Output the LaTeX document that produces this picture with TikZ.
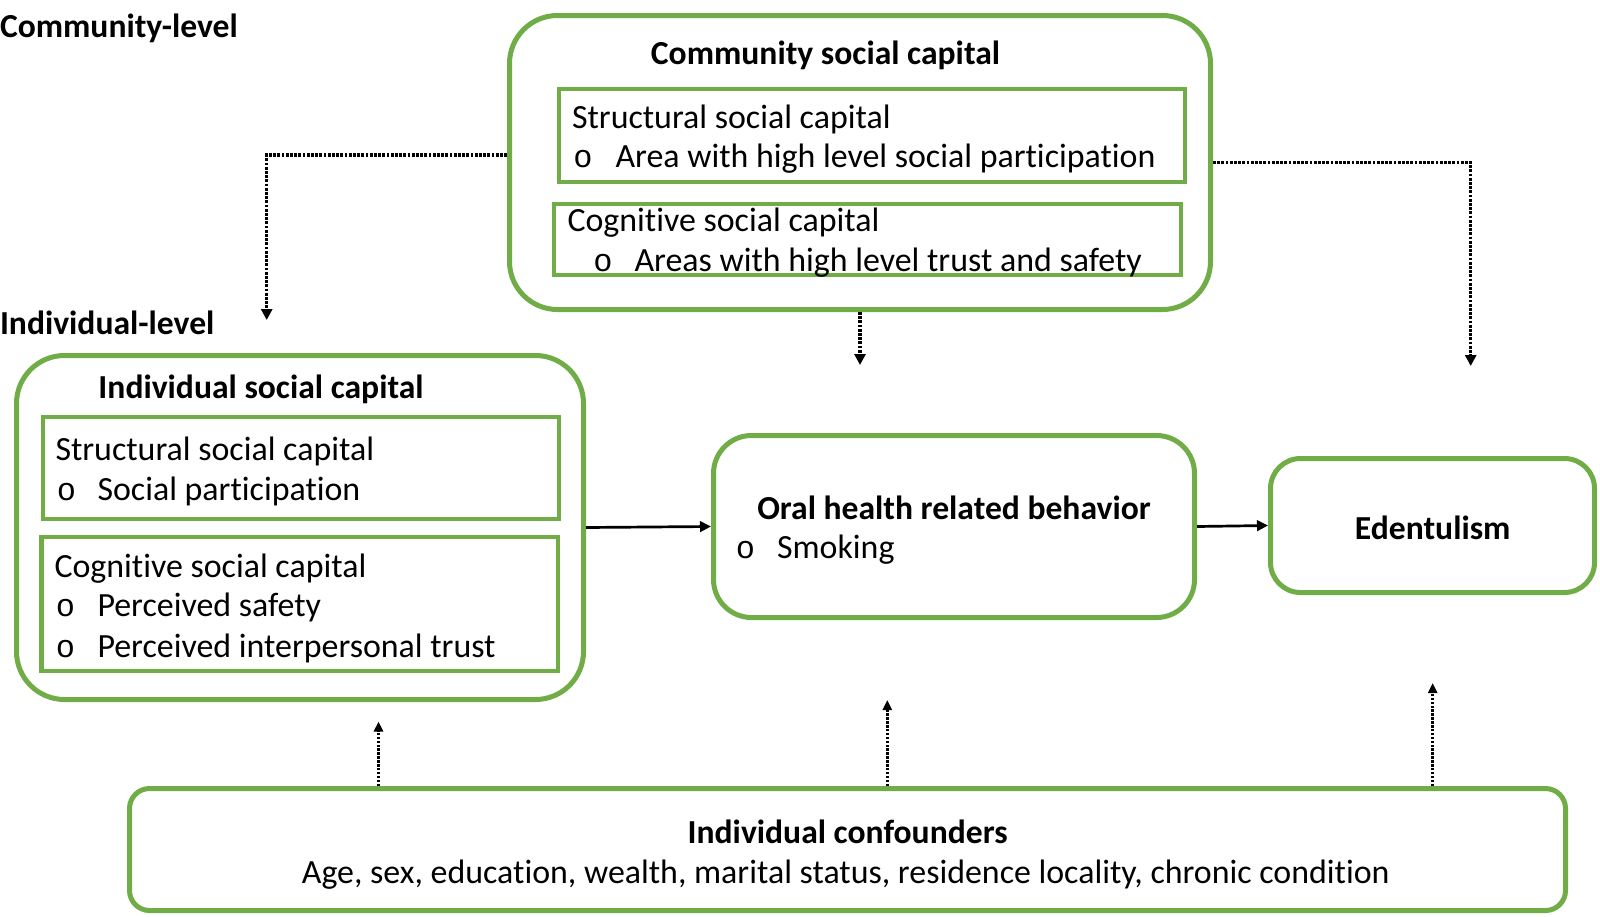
\documentclass[tikz,border=0pt]{standalone}
\usepackage{fontspec}
\setmainfont{Carlito}[Ligatures={NoCommon,NoContextual}]
\newfontfamily\bulletfont{Liberation Mono}
\usetikzlibrary{arrows.meta}
\definecolor{boxgreen}{HTML}{70AD47}
\tikzset{
  outerbox/.style={draw=boxgreen, line width=5pt, rounded corners=#1, inner sep=0pt, fill=none},
  innerbox/.style={draw=boxgreen, line width=4.5pt, inner sep=0pt},
  txt/.style={inner sep=0pt, outer sep=0pt, font=\fontsize{33.9}{40}\selectfont},
  btxt/.style={txt, font=\fontsize{33.6}{40}\selectfont\bfseries},
  bul/.style={inner sep=0pt, outer sep=0pt, anchor=base, font=\fontsize{32}{40}\selectfont\bulletfont},
  solidarrow/.style={line width=2.7pt, -{Triangle[length=11pt,width=10.5pt]}},
  dotarrow/.style={line width=3.2pt, dash pattern=on 2.8pt off 1.4pt, -{Triangle[length=11pt,width=11pt]}},
  dasharrow/.style={line width=2.7pt, dash pattern=on 2.5pt off 1.4pt, -{Triangle[length=10pt,width=9pt]}},
}
\begin{document}
\begin{tikzpicture}[x=1pt,y=-1pt]
\useasboundingbox (0,0) rectangle (1600,916);

% ---- boxes ----
\node[outerbox=48pt, minimum width=701pt, minimum height=294pt] (comm) at (860,162.5) {};
\node[innerbox, minimum width=626pt, minimum height=93pt] (commS) at (872,135.5) {};
\node[innerbox, minimum width=627pt, minimum height=71pt] (commC) at (867.5,239.5) {};

\node[outerbox=48pt, minimum width=567pt, minimum height=344pt] (ind) at (300,527.5) {};
\node[innerbox, minimum width=516pt, minimum height=102pt] (indS) at (301,468) {};
\node[innerbox, minimum width=516.5pt, minimum height=134pt] (indC) at (299.75,604) {};

\node[outerbox=38pt, minimum width=481pt, minimum height=182pt] (oral) at (954,526.5) {};
\node[outerbox=30pt, minimum width=324pt, minimum height=134pt] (eden) at (1432.5,525.5) {};
\node[outerbox=20pt, minimum width=1436pt, minimum height=122pt] (conf) at (847.5,849.5) {};

% ---- level labels ----
\node[btxt, anchor=base west] (lblC) at (0,37) {Community-level};
\node[btxt, anchor=base west] (lblI) at (0,334) {Individual-level};

% ---- community texts ----
\node[btxt, anchor=base] (tComm) at (825.5,64.5) {Community social capital};
\node[txt, anchor=base west] (cs1) at (572,128.5) {Structural social capital};
\node[bul] (cs2b) at (583,167.5) {o};
\node[txt, anchor=base west] (cs2) at (615.5,167.5) {Area with high level social participation};
\node[txt, anchor=base west] (cc1) at (567.5,231.5) {Cognitive social capital};
\node[bul] (cc2b) at (603,271.5) {o};
\node[txt, anchor=base west] (cc2) at (634.5,271.5) {Areas with high level trust and safety};

% ---- individual texts ----
\node[btxt, anchor=base] (tInd) at (261,398) {Individual social capital};
\node[txt, anchor=base west] (is1) at (55.5,460.5) {Structural social capital};
\node[bul] (is2b) at (66.5,500.5) {o};
\node[txt, anchor=base west] (is2) at (97.5,500.5) {Social participation};
\node[txt, anchor=base west] (ic1) at (54.5,577) {Cognitive social capital};
\node[bul] (ic2b) at (65.5,616.5) {o};
\node[txt, anchor=base west] (ic2) at (97.5,616.5) {Perceived safety};
\node[bul] (ic3b) at (65.5,657) {o};
\node[txt, anchor=base west] (ic3) at (97.5,657) {Perceived interpersonal trust};

% ---- oral / edentulism / confounders texts ----
\node[btxt, anchor=base] (tOral) at (954,519.5) {Oral health related behavior};
\node[bul] (ob) at (745.5,558.5) {o};
\node[txt, anchor=base west] (os) at (777,558.5) {Smoking};
\node[btxt, anchor=base] (tEden) at (1432.7,539) {Edentulism};
\node[btxt, anchor=base] (tConf) at (847.6,843) {Individual confounders};
\node[txt, anchor=base] (tConf2) at (845.7,883) {Age, sex, education, wealth, marital status, residence locality, chronic condition};

% ---- connector free ends ----
\coordinate (dlTurn) at (266.7,155);
\coordinate (dlEnd) at (266.7,320);
\coordinate (drTurn) at (1470.7,162.5);
\coordinate (drEnd) at (1470.7,366);
\coordinate (dcEnd) at (860,365);
\coordinate (u1) at (378.5,721.5);
\coordinate (u2) at (887.3,700);
\coordinate (u3) at (1432.7,683);

% ---- solid arrows ----
\draw[solidarrow] (ind.east) -- (oral.west);
\draw[solidarrow] (oral.east) -- (eden.west);

% ---- dotted arrows from community ----
\draw[dotarrow] (comm.west |- dlTurn) -- (dlTurn) -- (dlEnd);
\draw[dotarrow] (comm.east |- drTurn) -- (drTurn) -- (drEnd);
\draw[dotarrow] (comm.south) -- (dcEnd);

% ---- dashed arrows from confounders ----
\draw[dasharrow] (conf.north -| u1) -- (u1);
\draw[dasharrow] (conf.north -| u2) -- (u2);
\draw[dasharrow] (conf.north -| u3) -- (u3);
\end{tikzpicture}
\end{document}
